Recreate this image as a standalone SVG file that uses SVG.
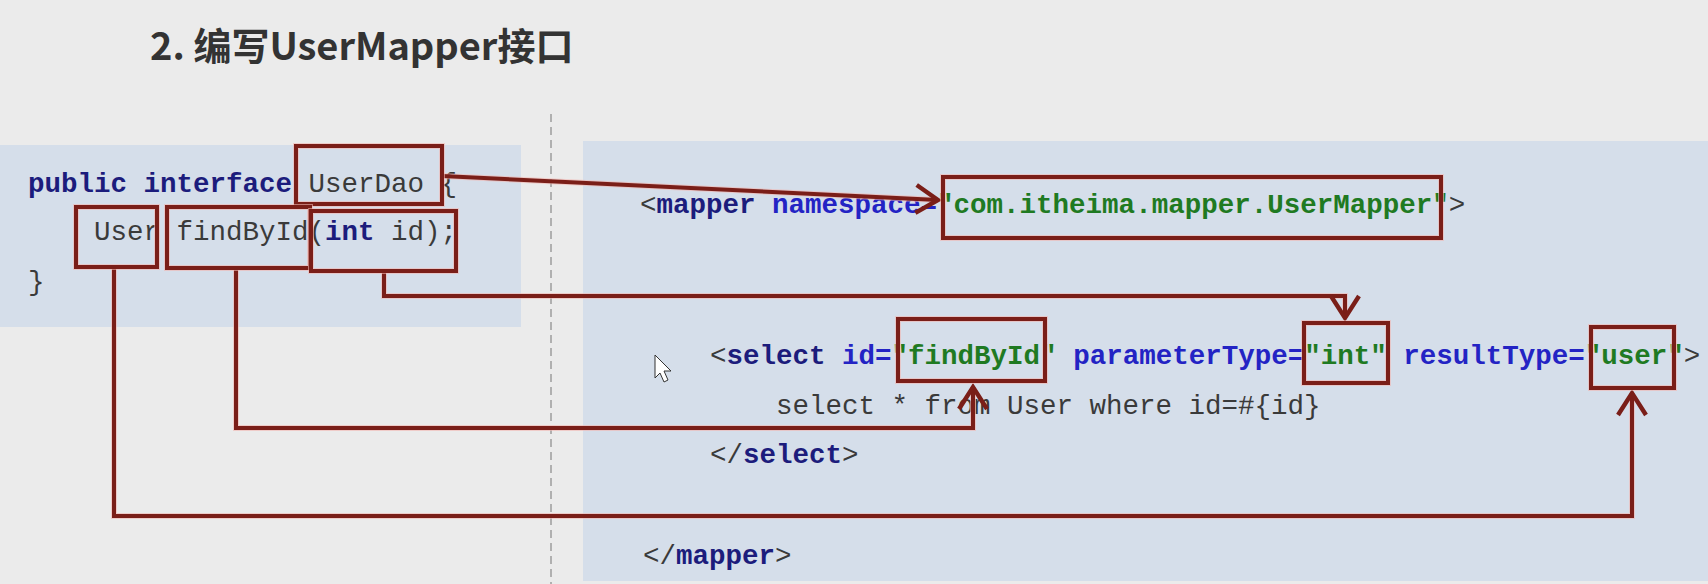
<svg xmlns="http://www.w3.org/2000/svg" width="1708" height="584" viewBox="0 0 1708 584">
<style>
.code{font-family:"Liberation Mono","Courier New",monospace;font-size:27.5px;fill:#3a3a3a;white-space:pre}
.kw{font-weight:bold;fill:#1c1c7c}
.at{font-weight:bold;fill:#2323c4}
.st{font-weight:bold;fill:#1f7a22}
.halo{fill:none;stroke:#f2b5b0;stroke-width:6;stroke-opacity:0.6}
.box{fill:none;stroke:#7a1e18;stroke-width:4}
.con{fill:none;stroke:#7a1e18;stroke-width:4;stroke-linejoin:miter}
.conh{fill:none;stroke:#f2b5b0;stroke-width:6;stroke-opacity:0.6;stroke-linejoin:miter}
</style>
<defs>
<marker id="arr" markerWidth="9" markerHeight="9" refX="6.5" refY="4.5" orient="auto" markerUnits="strokeWidth">
<path d="M1,1 L6.5,4.5 L1,8" fill="none" stroke="#7a1e18" stroke-width="1.1"/>
</marker>
</defs>
<rect width="1708" height="584" fill="#ebebeb"/>
<text x="150" y="60" font-family="'Noto Sans CJK SC','Noto Sans',sans-serif" font-size="38" font-weight="bold" fill="#333">2. 编写UserMapper接口</text>
<line x1="551" y1="114" x2="551" y2="584" stroke="#b0b0b0" stroke-width="2" stroke-dasharray="8,5"/>

<g id="left-code">
<rect x="0" y="145" width="521" height="182" fill="#d5deea"/>
<text class="code" x="28" y="192"><tspan class="kw">public interface</tspan> UserDao {</text>
<text class="code" x="28" y="240">    User findById(<tspan class="kw">int</tspan> id);</text>
<text class="code" x="28" y="290">}</text>
</g>

<g id="right-code">
<rect x="583" y="141" width="1125" height="440" fill="#d5deea"/>
<text class="code" x="640" y="213">&lt;<tspan class="kw">mapper</tspan> <tspan class="at">namespace=</tspan><tspan class="st">"com.itheima.mapper.UserMapper"</tspan>&gt;</text>
<text class="code" x="710" y="364">&lt;<tspan class="kw">select</tspan> <tspan class="at">id=</tspan><tspan class="st">"findById"</tspan> <tspan class="at">parameterType=</tspan><tspan class="st">"int"</tspan> <tspan class="at">resultType=</tspan><tspan class="st">"user"</tspan>&gt;</text>
<text class="code" x="776" y="414">select * from User where id=#{id}</text>
<text class="code" x="710" y="463">&lt;/<tspan class="kw">select</tspan>&gt;</text>
<text class="code" x="643" y="564">&lt;/<tspan class="kw">mapper</tspan>&gt;</text>
<path d="M655,355 L655,378 L660,373 L664,382 L668,380 L664,371 L671,371 Z" fill="#fff" stroke="#333" stroke-width="1"/>
</g>

<g id="connectors">
<path class="conh" d="M442,176 L938,200"/>
<path class="conh" d="M384,271 V296 H1345 V318"/>
<path class="conh" d="M236,268 V428 H973 V387"/>
<path class="conh" d="M114,267 V516 H1632 V393"/>
<path class="con" d="M442,176 L938,200" marker-end="url(#arr)"/>
<path class="con" d="M384,271 V296 H1345 V318" marker-end="url(#arr)"/>
<path class="con" d="M236,268 V428 H973 V387" marker-end="url(#arr)"/>
<path class="con" d="M114,267 V516 H1632 V393" marker-end="url(#arr)"/>
</g>

<g id="node-userdao"><rect class="halo" x="296" y="146" width="146" height="58"/><rect class="box" x="296" y="146" width="146" height="58"/></g>
<g id="node-user"><rect class="halo" x="76" y="207" width="81" height="60"/><rect class="box" x="76" y="207" width="81" height="60"/></g>
<g id="node-findbyid"><rect class="halo" x="167" y="207" width="143" height="61"/><rect class="box" x="167" y="207" width="143" height="61"/></g>
<g id="node-intid"><rect class="halo" x="311" y="211" width="145" height="60"/><rect class="box" x="311" y="211" width="145" height="60"/></g>
<g id="node-namespace"><rect class="halo" x="943" y="177" width="498" height="61"/><rect class="box" x="943" y="177" width="498" height="61"/></g>
<g id="node-selectid"><rect class="halo" x="898" y="319" width="147" height="62"/><rect class="box" x="898" y="319" width="147" height="62"/></g>
<g id="node-paramtype"><rect class="halo" x="1304" y="323" width="84" height="60"/><rect class="box" x="1304" y="323" width="84" height="60"/></g>
<g id="node-resulttype"><rect class="halo" x="1591" y="327" width="83" height="61"/><rect class="box" x="1591" y="327" width="83" height="61"/></g>
</svg>
